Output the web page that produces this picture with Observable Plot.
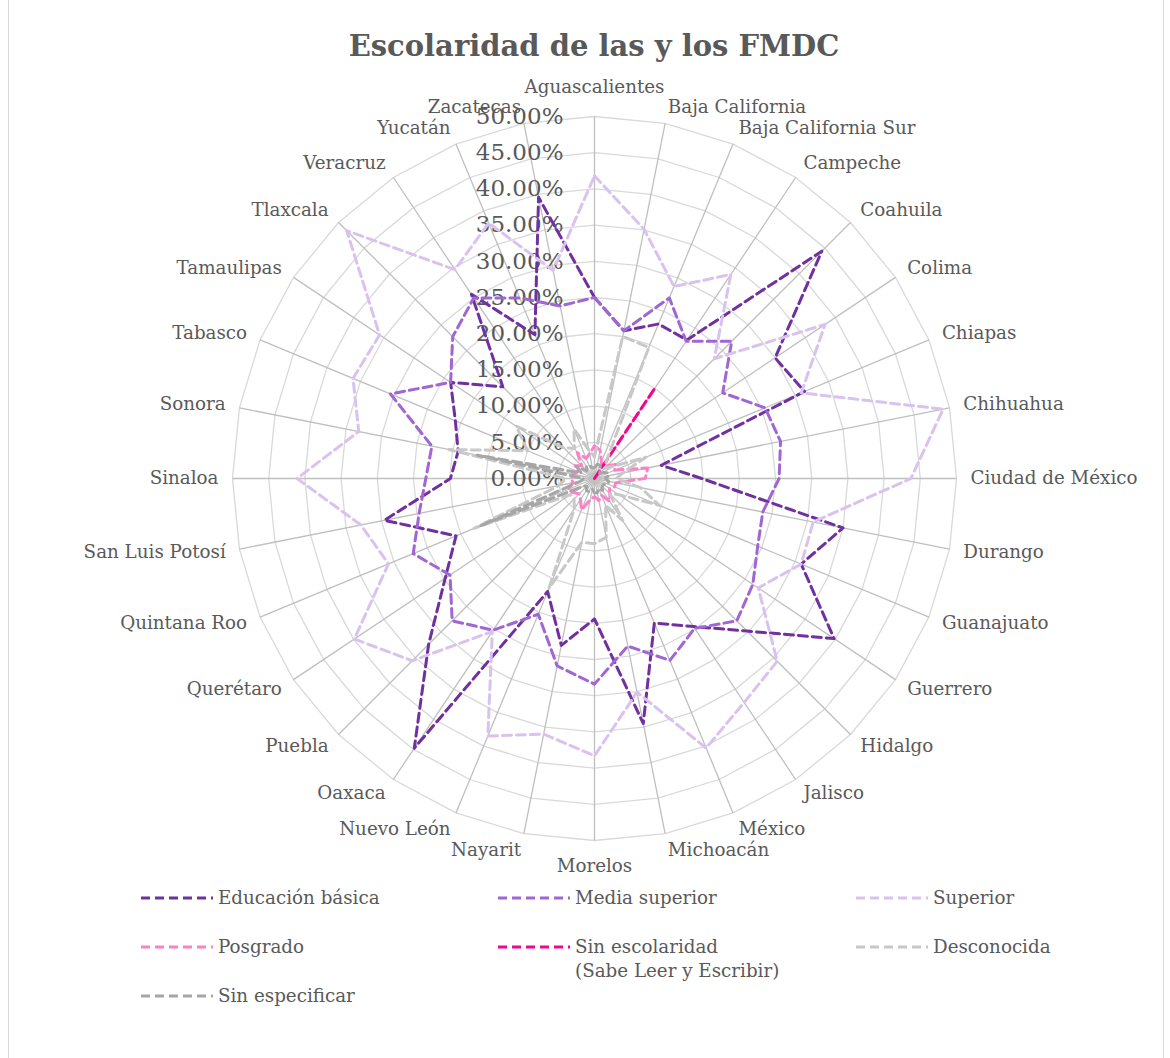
<!DOCTYPE html>
<html><head><meta charset="utf-8">
<script src="https://cdn.jsdelivr.net/npm/d3@7"></script>
<script src="https://cdn.jsdelivr.net/npm/@observablehq/plot@0.6"></script>
<style>
body{margin:0;background:#fff;}
#wrap{position:relative;width:1170px;height:1058px;font-family:"DejaVu Serif",serif;color:#595959;overflow:hidden;}
#frame{position:absolute;left:8px;top:-2px;width:1156px;height:1070px;border:1px solid #D9D9D9;box-sizing:border-box;}
#title{position:absolute;top:26px;left:94px;width:1000px;text-align:center;font-size:29px;font-weight:bold;line-height:40px;}
#chart{position:absolute;left:0;top:70px;}
.li{position:absolute;font-size:18.3px;line-height:24px;white-space:nowrap;}
.li svg{position:absolute;left:0;top:9px;}
.li span{position:absolute;left:78px;top:0;}
</style></head>
<body><div id="wrap"><div id="frame"></div><div id="title">Escolaridad de las y los FMDC</div><div id="chart"></div><div id="legend"></div></div>
<script>
const states = ["Aguascalientes","Baja California","Baja California Sur","Campeche","Coahuila","Colima","Chiapas","Chihuahua","Ciudad de México","Durango","Guanajuato","Guerrero","Hidalgo","Jalisco","México","Michoacán","Morelos","Nayarit","Nuevo León","Oaxaca","Puebla","Querétaro","Quintana Roo","San Luis Potosí","Sinaloa","Sonora","Tabasco","Tamaulipas","Tlaxcala","Veracruz","Yucatán","Zacatecas"];
const educacionBasica = [25.0,20.8,23.1,23.0,44.4,30.0,31.4,9.4,14.8,35.0,30.9,39.8,29.8,24.6,21.6,34.5,19.4,23.5,16.9,44.8,32.4,24.8,20.7,29.6,19.9,19.2,20.8,23.9,17.9,30.6,21.5,39.6];
const mediaSuperior = [25.0,20.8,27.0,22.8,26.8,21.3,25.5,26.2,25.5,23.7,24.4,26.3,27.8,24.9,27.2,23.6,28.4,26.4,20.3,25.2,27.8,24.0,27.1,24.7,23.3,22.9,30.5,23.9,27.7,30.0,27.0,24.3];
const superior = [41.8,35.1,28.7,33.9,23.4,38.3,30.9,49.1,43.7,30.8,30.9,27.2,35.7,37.2,40.3,30.1,38.3,36.0,38.5,25.4,35.6,39.9,30.8,32.9,41.1,33.2,36.1,35.7,48.4,34.7,38.2,29.3];
const posgrado = [4.5,4.0,2.5,2.0,2.5,3.5,3.0,7.5,7.0,3.0,3.0,2.5,3.0,3.8,2.5,3.1,2.5,3.0,4.7,3.5,3.0,3.5,4.0,3.0,3.3,3.0,2.5,3.2,2.5,4.3,3.0,3.5];
const sinEscolaridad = [0,0,0,15.1,0,0,0,0,0,0,0,0,0,0,0,0,0,0,0,0,0,0,0,0,0,0,0,0,0,0,0,0];
const desconocida = [3.0,20.0,19.6,3.0,2.0,3.0,7.7,4.0,3.0,6.5,9.7,4.0,3.0,7.0,4.0,8.3,9.0,9.0,16.4,5.0,4.0,4.0,18.0,5.0,4.0,20.5,10.0,13.0,6.0,5.0,7.4,4.0];
const sinEspecificar = [1.5,2.0,2.0,1.5,1.0,1.5,2.0,2.0,1.5,2.0,2.0,1.5,1.5,2.0,1.5,2.0,2.0,1.5,2.0,2.0,1.5,2.0,17.0,2.0,1.5,16.5,2.0,3.0,1.5,2.0,2.0,1.5];
const tickValues = [0,5,10,15,20,25,30,35,40,45,50];
const seriesNames = ["Educación básica","Media superior","Superior","Posgrado","Sin escolaridad (Sabe Leer y Escribir)","Desconocida","Sin especificar"];

const seriesValues = [educacionBasica, mediaSuperior, superior, posgrado, sinEscolaridad, desconocida, sinEspecificar];
const colors = ["#7030A0","#A066D3","#D9C2F0","#FF80C8","#F2058F","#C8C8C8","#A6A6A6"];
const dashes = ["9,5","9,5","9,5","9,5","9,5","9,5","9,5"];

const N = states.length;
const RMAX = 50;
const PX = 362 / RMAX;
const ang = i => i * 2 * Math.PI / N;

const rows = [];
seriesNames.forEach((s, k) => seriesValues[k].forEach((v, i) => rows.push({series: s, state: states[i], v, x: v * Math.sin(ang(i)), y: v * Math.cos(ang(i))})));

const rings = [];
tickValues.filter(t => t > 0).forEach(t => states.forEach((s, i) => rings.push({t, x: t * Math.sin(ang(i)), y: t * Math.cos(ang(i))})));

const cats = states.map((s, i) => {
  const a = ang(i), sn = Math.sin(a), cs = Math.cos(a);
  let anchor = Math.abs(sn) < 0.01 ? "middle" : (sn > 0 ? "start" : "end");
  let ox = 14 * sn, oy = 17 * cs;
  if (anchor === "middle") { ox = 0; oy = cs > 0 ? 29 : -26; }
  return {state: s, anchor, sx: RMAX * sn, sy: RMAX * cs, lx: RMAX * sn + ox / PX, ly: RMAX * cs + oy / PX};
});

const CX = 594, CY = 408;
const marks = [
  Plot.line(rings, {x: "x", y: "y", z: "t", curve: "linear-closed", stroke: "#D9D9D9", strokeWidth: 1.3}),
  Plot.link(cats, {x1: d => 0, y1: d => 0, x2: "sx", y2: "sy", stroke: "#BFBFBF", strokeWidth: 1.3}),
  Plot.text(tickValues, {x: d => 0, y: d => d, text: d => d.toFixed(2) + "%", textAnchor: "end", dx: -31, fontSize: 23, fill: "#595959", fontFamily: "DejaVu Serif"}),
  ...["start", "end", "middle"].map(an => Plot.text(cats.filter(c => c.anchor === an), {x: "lx", y: "ly", text: "state", textAnchor: an, fontSize: 18.3, fill: "#595959", fontFamily: "DejaVu Serif"})),
  ...seriesNames.map((s, k) => Plot.line(rows.filter(r => r.series === s), {x: "x", y: "y", curve: "linear-closed", stroke: colors[k], strokeWidth: 3, strokeDasharray: dashes[k]}))
];

const chart = Plot.plot({
  width: 1170, height: 810,
  x: {domain: [-RMAX, RMAX], range: [CX - 362, CX + 362], axis: null},
  y: {domain: [-RMAX, RMAX], range: [CY + 362, CY - 362], axis: null},
  style: {background: "transparent", overflow: "visible"},
  marks
});
document.getElementById("chart").appendChild(chart);

const legPos = [[140,886],[497,886],[855,886],[140,935],[497,935],[855,935],[140,984]];
const leg = document.getElementById("legend");
seriesNames.forEach((s, k) => {
  const d = document.createElement("div");
  d.className = "li";
  d.style.left = legPos[k][0] + "px";
  d.style.top = legPos[k][1] + "px";
  const label = s === "Sin escolaridad (Sabe Leer y Escribir)" ? "Sin escolaridad<br>(Sabe Leer y Escribir)" : s;
  d.innerHTML = `<svg width="74" height="6"><line x1="1" y1="3" x2="73" y2="3" stroke="${colors[k]}" stroke-width="3" stroke-dasharray="${dashes[k]}"/></svg><span>${label}</span>`;
  leg.appendChild(d);
});
</script></body></html>
